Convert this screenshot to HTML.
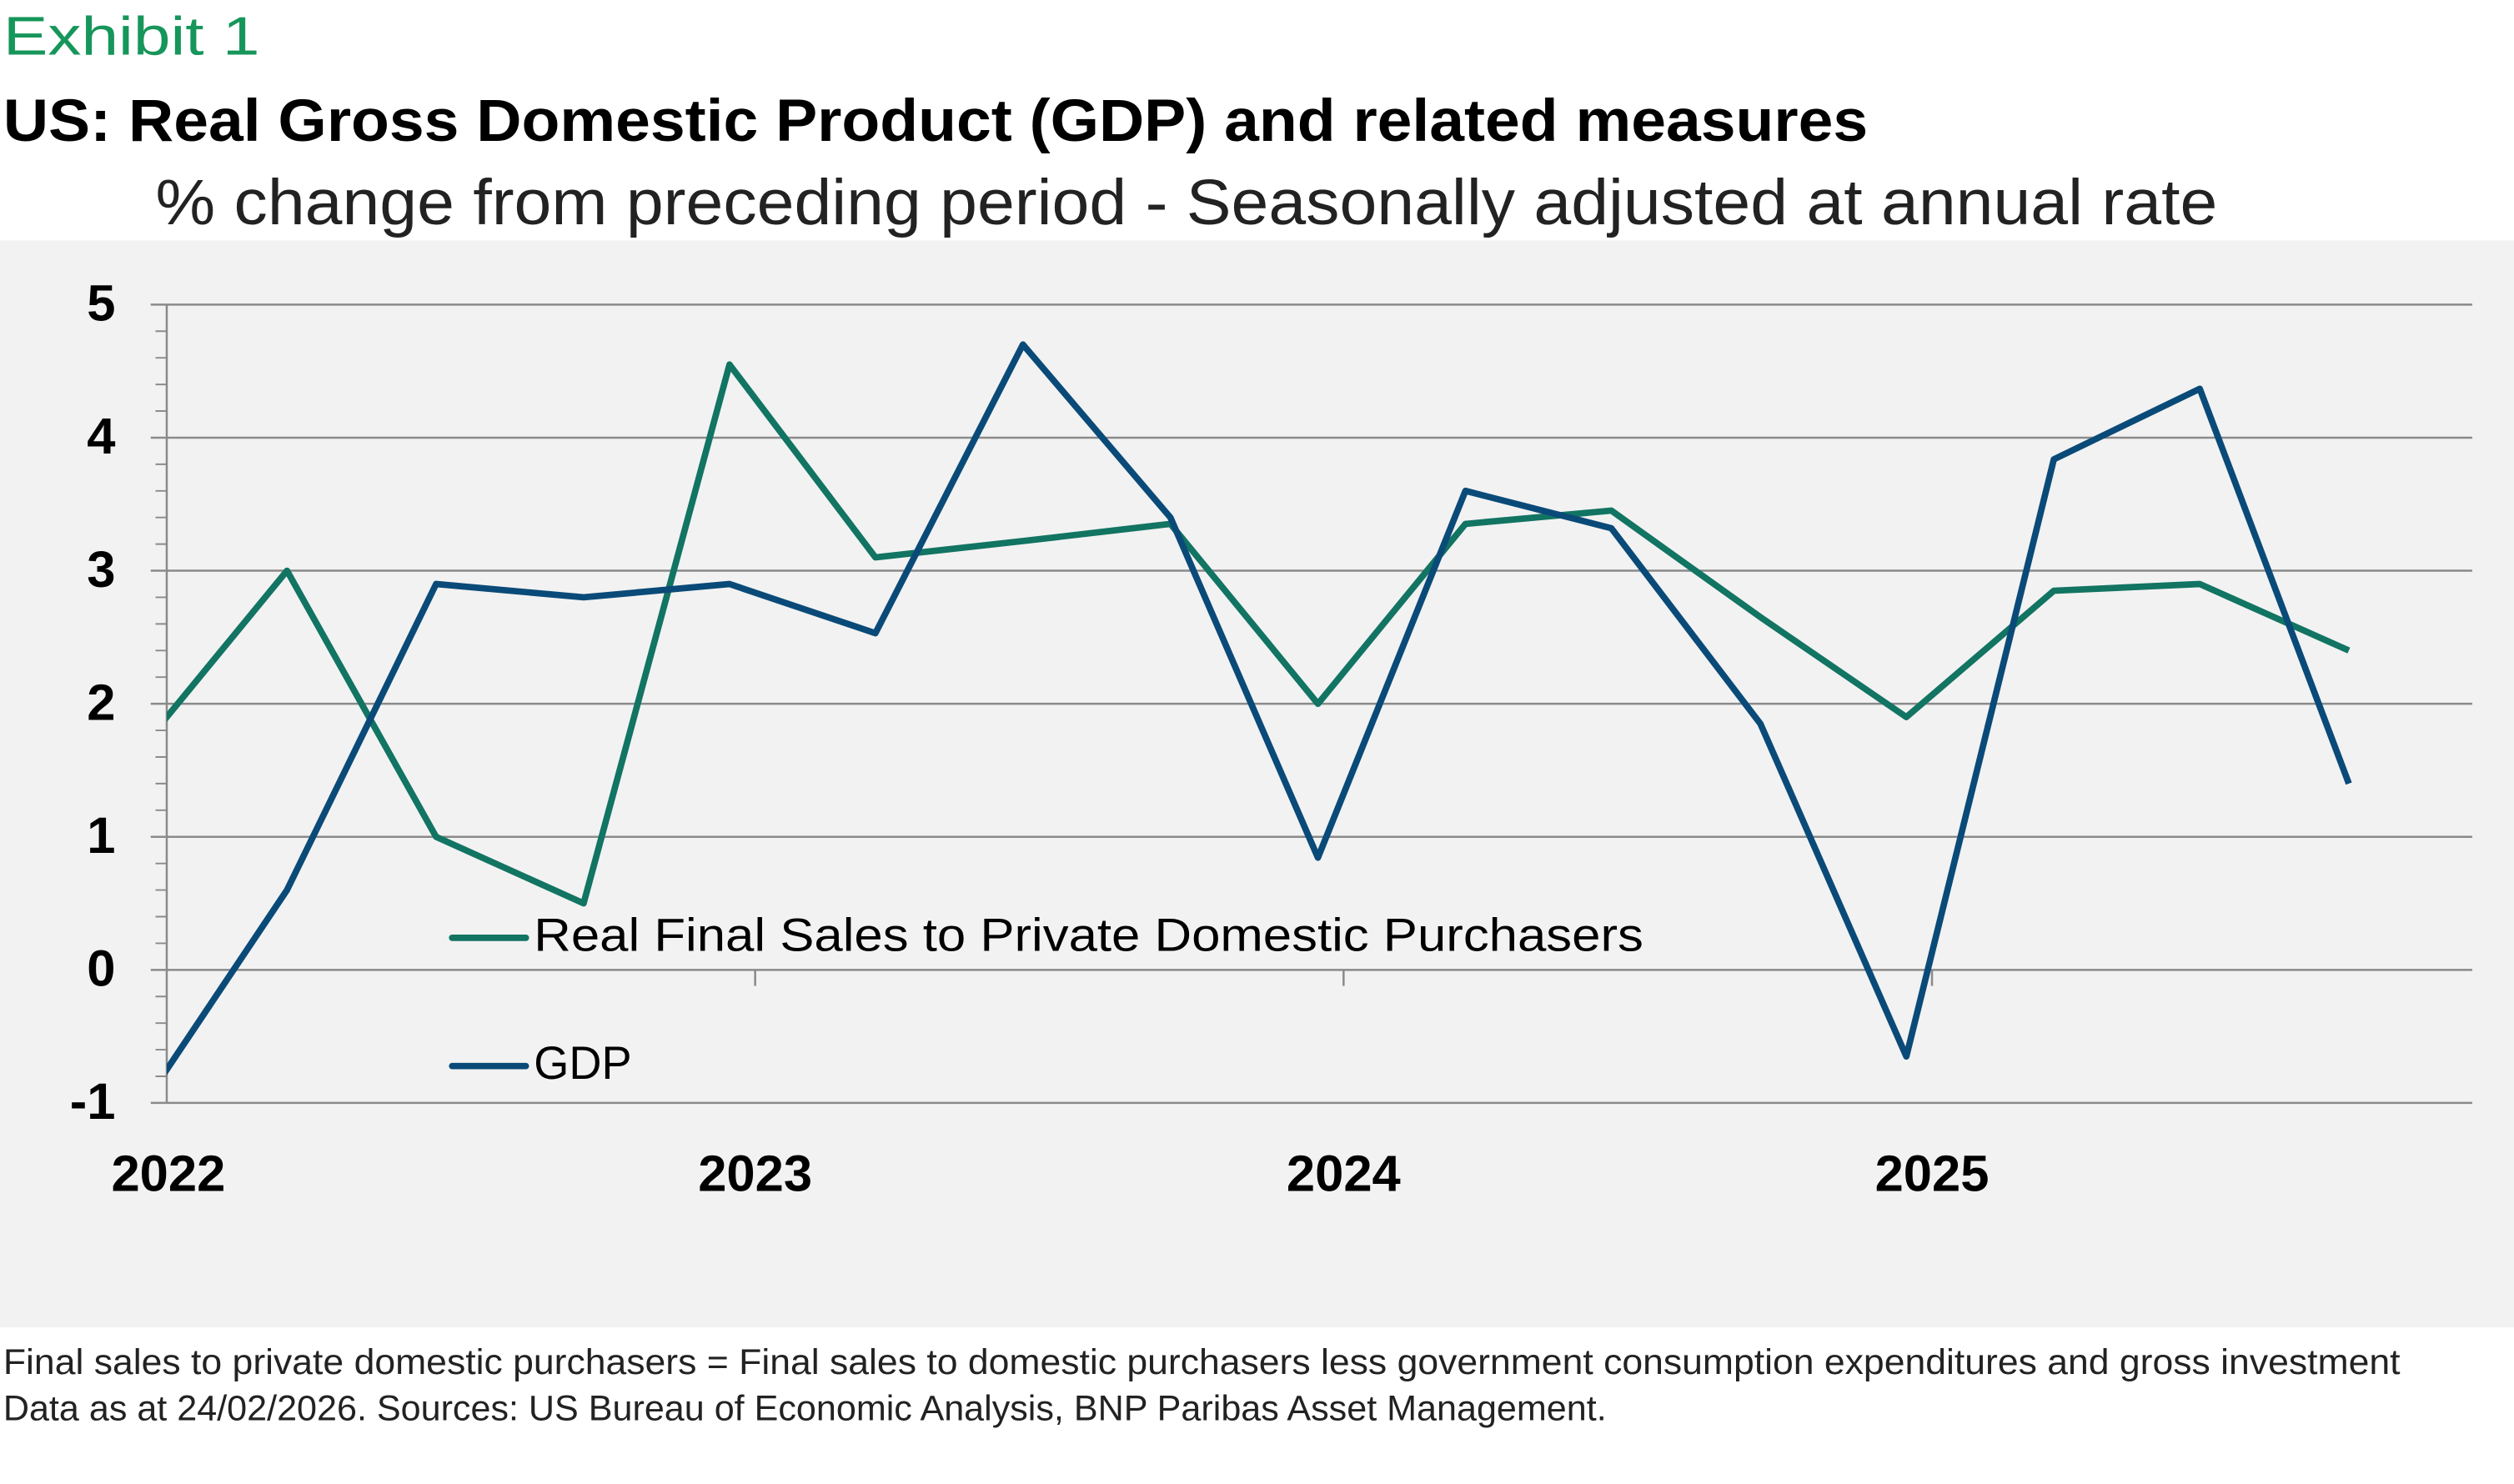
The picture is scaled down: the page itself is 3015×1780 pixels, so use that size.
<!DOCTYPE html>
<html><head><meta charset="utf-8"><style>
html,body{margin:0;padding:0;background:#fff}
svg{display:block}
text{font-family:"Liberation Sans","DejaVu Sans",sans-serif}
</style></head><body>
<svg width="3015" height="1780" viewBox="0 0 1568 925.7" preserveAspectRatio="none" xmlns="http://www.w3.org/2000/svg">
<defs><clipPath id="c"><rect x="104" y="150" width="1450" height="600"/></clipPath></defs>
<rect x="0" y="0" width="1568" height="926" fill="#fff"/>
<text x="2" y="34" font-size="34" fill="#16965a" textLength="160" lengthAdjust="spacingAndGlyphs">Exhibit 1</text>
<text x="2" y="88" font-size="37" font-weight="bold" fill="#000" textLength="1163" lengthAdjust="spacingAndGlyphs">US: Real Gross Domestic Product (GDP) and related measures</text>
<text x="97" y="140" font-size="40" fill="#222" textLength="1286" lengthAdjust="spacingAndGlyphs">% change from preceding period  - Seasonally adjusted at annual rate</text>
<rect x="0" y="150" width="1568" height="678" fill="#f2f2f2"/>
<g stroke="#8a8a8a" stroke-width="1.3">
<line x1="94" y1="190" x2="1542" y2="190"/>
<line x1="94" y1="273" x2="1542" y2="273"/>
<line x1="94" y1="356" x2="1542" y2="356"/>
<line x1="94" y1="439" x2="1542" y2="439"/>
<line x1="94" y1="522" x2="1542" y2="522"/>
<line x1="94" y1="605" x2="1542" y2="605"/>
<line x1="94" y1="688" x2="1542" y2="688"/>
<line x1="104" y1="190" x2="104" y2="688"/>
<line x1="471" y1="605" x2="471" y2="615"/>
<line x1="838" y1="605" x2="838" y2="615"/>
<line x1="1205" y1="605" x2="1205" y2="615"/>
</g>
<g stroke="#8a8a8a" stroke-width="1">
<path d="M97 206.6h7M97 223.2h7M97 239.8h7M97 256.4h7M97 289.6h7M97 306.2h7M97 322.8h7M97 339.4h7M97 372.6h7M97 389.2h7M97 405.8h7M97 422.4h7M97 455.6h7M97 472.2h7M97 488.8h7M97 505.4h7M97 538.6h7M97 555.2h7M97 571.8h7M97 588.4h7M97 621.6h7M97 638.2h7M97 654.8h7M97 671.4h7"/>
</g>
<g font-size="32" font-weight="bold" fill="#000" text-anchor="end">
<text x="72" y="200">5</text>
<text x="72" y="283">4</text>
<text x="72" y="366">3</text>
<text x="72" y="449">2</text>
<text x="72" y="532">1</text>
<text x="72" y="615">0</text>
<text x="72" y="698">-1</text>
</g>
<g font-size="32" font-weight="bold" fill="#000" text-anchor="middle">
<text x="105" y="743">2022</text>
<text x="471" y="743">2023</text>
<text x="838" y="743">2024</text>
<text x="1205" y="743">2025</text>
</g>
<g clip-path="url(#c)">
<polyline fill="none" stroke="#127462" stroke-width="4" stroke-linejoin="round" points="87,468 179,356 272,522 364,563.5 455,227.4 546,347.7 638,337.5 730,326.8 822,439 914,326.8 1005,318.5 1098,385 1189,447.3 1281,368.5 1372,364.3 1465,405.8"/>
<polyline fill="none" stroke="#0a4a78" stroke-width="4" stroke-linejoin="round" points="87,692.6 179,555.2 272,364.3 364,372.6 455,364.3 546,395 638,214.9 730,322.8 822,535 914,306.2 1005,329.5 1098,451.5 1189,659 1281,286.5 1372,242.5 1465,488.8"/>
</g>
<line x1="282" y1="585" x2="328" y2="585" stroke="#127462" stroke-width="4" stroke-linecap="round"/>
<text x="333" y="593" font-size="29" fill="#000" textLength="692" lengthAdjust="spacingAndGlyphs">Real Final Sales to Private Domestic Purchasers</text>
<line x1="282" y1="665" x2="328" y2="665" stroke="#0a4a78" stroke-width="4" stroke-linecap="round"/>
<text x="333" y="673" font-size="29" fill="#000" textLength="61" lengthAdjust="spacingAndGlyphs">GDP</text>
<text x="2" y="857" font-size="22" fill="#222" textLength="1495" lengthAdjust="spacingAndGlyphs">Final sales to private domestic purchasers = Final sales to domestic purchasers less government consumption expenditures and gross investment</text>
<text x="2" y="886" font-size="22" fill="#222" textLength="1000" lengthAdjust="spacingAndGlyphs">Data as at 24/02/2026. Sources: US Bureau of Economic Analysis, BNP Paribas Asset Management.</text>
</svg>
</body></html>
